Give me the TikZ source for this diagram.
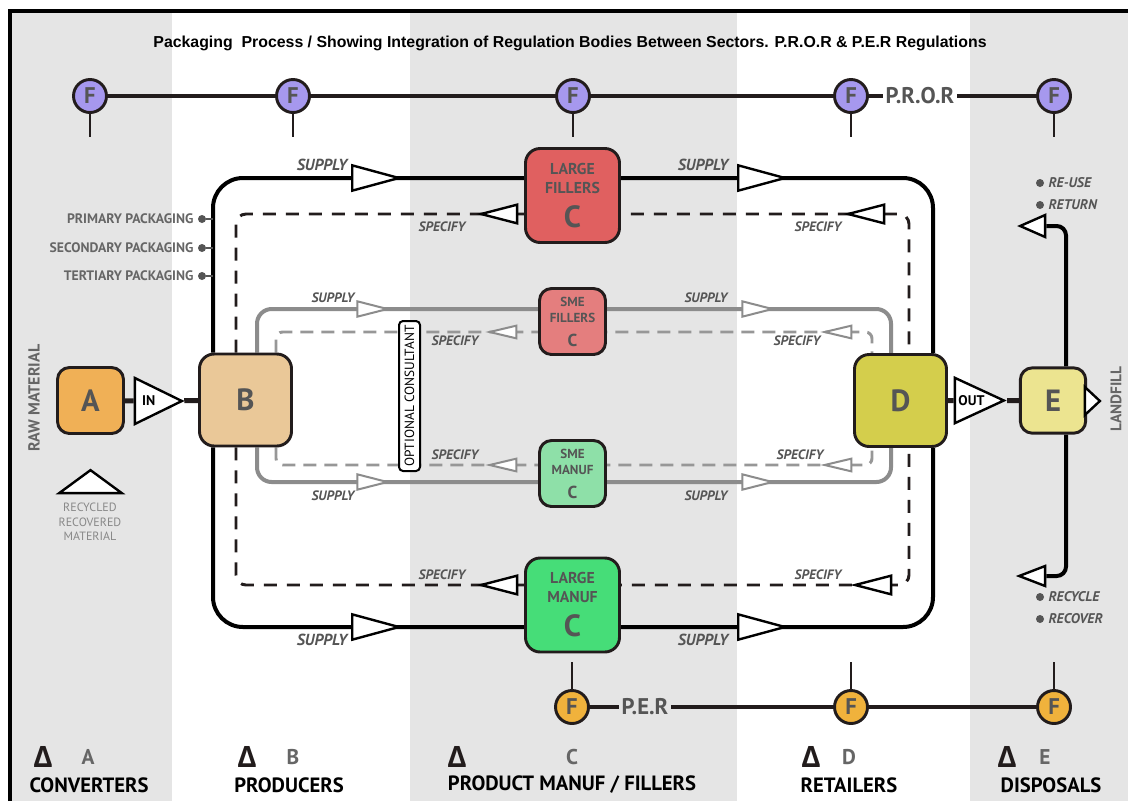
\documentclass[tikz,border=0pt]{standalone}
\usepackage{fontspec}
\setmainfont{PT Sans}
\newfontfamily\titlefont{Liberation Sans}
\newfontfamily\symfont{Open Sans}
\usetikzlibrary{shapes.geometric,positioning}
\pgfdeclarelayer{back}
\pgfdeclarelayer{mid}
\pgfsetlayers{back,mid,main}

\definecolor{bandGray}{RGB}{229,229,229}
\definecolor{boxLine}{RGB}{34,28,28}
\definecolor{txtGray}{RGB}{85,85,85}
\definecolor{lblGray}{RGB}{102,102,102}
\definecolor{lightTxt}{RGB}{136,136,136}
\definecolor{smeGray}{RGB}{140,140,140}
\definecolor{fPur}{RGB}{166,152,238}
\definecolor{fOra}{RGB}{240,178,60}
\definecolor{colA}{RGB}{240,176,86}
\definecolor{colB}{RGB}{234,200,152}
\definecolor{colLF}{RGB}{224,96,96}
\definecolor{colSF}{RGB}{228,126,126}
\definecolor{colSM}{RGB}{142,224,168}
\definecolor{colLM}{RGB}{70,221,120}
\definecolor{colD}{RGB}{212,206,76}
\definecolor{colE}{RGB}{236,228,144}

\begin{document}
\begin{tikzpicture}[x=0.75pt, y=-0.75pt]
\tikzstyle{boxStyle}=[draw=boxLine, line width=2.2pt, inner sep=0pt, align=center, text=txtGray]
\tikzstyle{bigBox}=[boxStyle, rounded corners=11pt, minimum size=70.5pt, font=\bfseries\fontsize{11.8}{14.25}\selectfont]
\tikzstyle{midBox}=[boxStyle, rounded corners=11pt, minimum size=69pt, font=\bfseries\fontsize{23}{23}\selectfont]
\tikzstyle{smallBox}=[boxStyle, rounded corners=9pt, minimum size=49.5pt, font=\bfseries\fontsize{9.8}{12}\selectfont]
\tikzstyle{letterBox}=[smallBox, font=\bfseries\fontsize{23}{23}\selectfont]
\tikzstyle{triStyle}=[isosceles triangle, isosceles triangle stretches, draw=black, fill=white, line width=1.8pt, inner sep=0pt]
\tikzstyle{supBig}=[triStyle, anchor=apex, minimum height=35pt, minimum width=19pt]
\tikzstyle{spcBig}=[triStyle, anchor=apex, shape border rotate=180, minimum height=27pt, minimum width=14pt]
\tikzstyle{supSme}=[triStyle, draw=smeGray, line width=1.5pt, anchor=apex, minimum height=22.5pt, minimum width=11.5pt]
\tikzstyle{spcSme}=[triStyle, draw=smeGray, line width=1.5pt, anchor=apex, shape border rotate=180, minimum height=20pt, minimum width=9.5pt]
\tikzstyle{supText}=[font=\bfseries\itshape\fontsize{12}{12}\selectfont, text=txtGray]
\tikzstyle{smeText}=[font=\bfseries\itshape\fontsize{10.2}{11}\selectfont, text=txtGray]
\tikzstyle{spcText}=[font=\bfseries\itshape\fontsize{10.2}{11}\selectfont, text=txtGray]
\tikzstyle{fTop}=[circle, draw=boxLine, fill=fPur, line width=2.2pt, minimum size=24.75pt, inner sep=0pt, text=txtGray, font=\bfseries\fontsize{17}{17}\selectfont]
\tikzstyle{fBot}=[fTop, fill=fOra]
\tikzstyle{regLine}=[line width=3pt, draw=boxLine]
\tikzstyle{tickLine}=[line width=1.6pt, draw=boxLine]
\tikzstyle{regText}=[font=\bfseries\fontsize{17}{17}\selectfont, text=txtGray, inner sep=2pt]
\tikzstyle{supLine}=[line width=3pt, draw=black, rounded corners=22.5pt]
\tikzstyle{spcLine}=[line width=2.2pt, draw=boxLine, dash pattern=on 9.75pt off 7.5pt, rounded corners=7.5pt]
\tikzstyle{smeLine}=[line width=3pt, draw=smeGray, rounded corners=11pt]
\tikzstyle{smeSpcLine}=[line width=2.2pt, draw=smeGray!90, dash pattern=on 9.75pt off 6pt, rounded corners=5pt]
\tikzstyle{flowLine}=[line width=3.75pt, draw=boxLine]
\tikzstyle{dotStyle}=[circle, fill=txtGray, inner sep=0pt, minimum size=6pt]
\tikzstyle{pkText}=[font=\bfseries\fontsize{10.3}{11}\selectfont, text=lblGray, inner sep=1pt]
\tikzstyle{endText}=[font=\bfseries\itshape\fontsize{10.5}{11}\selectfont, text=txtGray, inner sep=1pt]
\tikzstyle{sideText}=[font=\bfseries\fontsize{12}{12}\selectfont, text=lblGray, rotate=90]
\tikzstyle{deltaText}=[font=\symfont\bfseries\fontsize{22}{22}\selectfont, text=boxLine]
\tikzstyle{keyText}=[font=\bfseries\fontsize{16}{16}\selectfont, text=lblGray]
\tikzstyle{sectorText}=[font=\bfseries\fontsize{15.5}{16}\selectfont, text=black]
\useasboundingbox (0,0) rectangle (1128,801);

% sector bands and frame
\begin{pgfonlayer}{back}
\fill[white] (0,0) rectangle (1128,801);
\fill[bandGray] (10,11) rectangle (172,801);
\fill[bandGray] (410,11) rectangle (737,801);
\fill[bandGray] (970,11) rectangle (1128,801);
\draw[line width=2.4pt] (10,801) -- (10,11) -- (1128,11);
\end{pgfonlayer}

\node[font=\titlefont\bfseries\fontsize{11.9}{13}\selectfont] (title) at (570,43) {Packaging\ \ Process / Showing Integration of Regulation Bodies Between Sectors. P.R.O.R \& P.E.R Regulations};

% boxes
\node[letterBox, fill=colA] (A) at (90.5,400.5) {A};
\node[midBox, fill=colB] (B) at (245.5,400) {B};
\node[bigBox, fill=colLF] (LF) at (572.5,195.5) {LARGE\\FILLERS\\[8pt]{\fontsize{23}{23}\selectfont C}};
\node[smallBox, fill=colSF] (SF) at (572.5,321.5) {SME\\FILLERS\\[6pt]{\fontsize{13}{13}\selectfont C}};
\node[smallBox, fill=colSM] (SM) at (572.5,473.5) {SME\\MANUF\\[6pt]{\fontsize{13}{13}\selectfont C}};
\node[bigBox, fill=colLM] (LM) at (572.5,605) {LARGE\\MANUF\\[8pt]{\fontsize{23}{23}\selectfont C}};
\node[midBox, fill=colD] (D) at (900.5,400.5) {D};
\node[letterBox, fill=colE, minimum size=49pt] (E) at (1053,400.5) {E};
\node[draw=black, fill=white, line width=1.5pt, rounded corners=3pt, rotate=90, minimum width=112.5pt, minimum height=15.75pt, inner sep=0pt, font=\fontsize{10}{10}\selectfont] (cons) at (409.5,396) {OPTIONAL CONSULTANT};

% in / out
\node[triStyle, anchor=apex, minimum height=35.25pt, minimum width=34.5pt, font=\bfseries\fontsize{10.5}{10.5}\selectfont] (inTri) at (185,401) {IN\hspace{6pt}};
\node[triStyle, anchor=apex, minimum height=36.75pt, minimum width=34pt, font=\bfseries\fontsize{10.5}{10.5}\selectfont] (outTri) at (1007,400.5) {OUT\hspace{4pt}};
\node[triStyle, anchor=apex, minimum height=11.25pt, minimum width=21pt] (lfTri) at (1103,401) {};
\node[triStyle, anchor=apex, shape border rotate=90, minimum height=17.25pt, minimum width=47pt] (recTri) at (90.5,467) {};
\node[triStyle, anchor=apex, shape border rotate=180, minimum height=18.75pt, minimum width=16.5pt] (ruTri) at (1017,226) {};
\node[triStyle, anchor=apex, shape border rotate=180, minimum height=19.5pt, minimum width=15pt] (rcTri) at (1016,576) {};

% loop corners
\coordinate (sTL) at (213,178);
\coordinate (sTR) at (933,178);
\coordinate (sBR) at (933,627);
\coordinate (sBL) at (213,627);
\coordinate (kTL) at (236,214);
\coordinate (kTR) at (909,214);
\coordinate (kBR) at (909,585);
\coordinate (kBL) at (236,585);
\coordinate (gTL) at (257,309);
\coordinate (gTR) at (891,309);
\coordinate (gBR) at (891,482);
\coordinate (gBL) at (257,482);
\coordinate (hTL) at (276,332);
\coordinate (hTR) at (872,332);
\coordinate (hBR) at (872,465);
\coordinate (hBL) at (276,465);
\coordinate (eUp) at (1066,226);
\coordinate (eDn) at (1066,576);

% supply / specify marks
\node[supBig] (sp1) at (402,178) {};
\node[supBig] (sp2) at (788,178) {};
\node[supBig] (sp3) at (402,627) {};
\node[supBig] (sp4) at (788,627) {};
\node[spcBig] (sc1) at (478,214) {};
\node[spcBig] (sc2) at (845,214) {};
\node[spcBig] (sc3) at (478,585) {};
\node[spcBig] (sc4) at (852,585) {};
\node[supSme] (gp1) at (390,309) {};
\node[supSme] (gp2) at (775,309) {};
\node[supSme] (gp3) at (390,482) {};
\node[supSme] (gp4) at (775,482) {};
\node[spcSme] (gc1) at (487,332) {};
\node[spcSme] (gc2) at (822,332) {};
\node[spcSme] (gc3) at (487,465) {};
\node[spcSme] (gc4) at (822,465) {};

\node[supText] (ls1) at (322,165) {SUPPLY};
\node[supText] (ls2) at (703,165) {SUPPLY};
\node[supText] (ls3) at (322,640) {SUPPLY};
\node[supText] (ls4) at (703,640) {SUPPLY};
\node[spcText] (lc1) at (442,227) {SPECIFY};
\node[spcText] (lc2) at (818,227) {SPECIFY};
\node[spcText] (lc3) at (442,575) {SPECIFY};
\node[spcText] (lc4) at (818,575) {SPECIFY};
\node[smeText] (lg1) at (333,298) {SUPPLY};
\node[smeText] (lg2) at (706,298) {SUPPLY};
\node[smeText] (lg3) at (333,496) {SUPPLY};
\node[smeText] (lg4) at (706,496) {SUPPLY};
\node[spcText] (lh1) at (455,341) {SPECIFY};
\node[spcText] (lh2) at (797,341) {SPECIFY};
\node[spcText] (lh3) at (455,455) {SPECIFY};
\node[spcText] (lh4) at (800,455) {SPECIFY};

% regulation bodies
\node[fTop] (fP1) at (90,96) {F};
\node[fTop] (fP2) at (293,96) {F};
\node[fTop] (fP3) at (573,96) {F};
\node[fTop] (fP4) at (851,96) {F};
\node[fTop] (fP5) at (1054,96) {F};
\node[regText] (pror) at (920,96) {P.R.O.R};
\node[fBot] (fE1) at (572,707) {F};
\node[fBot] (fE2) at (851,707) {F};
\node[fBot] (fE3) at (1054,707) {F};
\node[regText] (per) at (645,707) {P.E.R};

% packaging levels
\node[dotStyle] (pk1) at (202,219) {};
\node[dotStyle] (pk2) at (202,248) {};
\node[dotStyle] (pk3) at (202,276) {};
\node[pkText, left=2pt of pk1] (pkT1) {PRIMARY PACKAGING};
\node[pkText, left=2pt of pk2] (pkT2) {SECONDARY PACKAGING};
\node[pkText, left=2pt of pk3] (pkT3) {TERTIARY PACKAGING};

% disposal routes
\node[dotStyle] (du1) at (1040,183) {};
\node[dotStyle] (du2) at (1040,205) {};
\node[dotStyle] (du3) at (1040,597) {};
\node[dotStyle] (du4) at (1040,619) {};
\node[endText, right=2pt of du1] (duT1) {RE-USE};
\node[endText, right=2pt of du2] (duT2) {RETURN};
\node[endText, right=2pt of du3] (duT3) {RECYCLE};
\node[endText, right=2pt of du4] (duT4) {RECOVER};

\node[sideText] (raw) at (34,398) {RAW MATERIAL};
\node[sideText, font=\bfseries\fontsize{11.5}{12}\selectfont] (landfill) at (1116,399) {LANDFILL};
\node[align=center, text=lightTxt, font=\fontsize{9}{10.9}\selectfont] (recTxt) at (90,522) {RECYCLED\\RECOVERED\\MATERIAL};

% sectors
\node[deltaText] (dA) at (43,757) {Δ};
\node[keyText] (kA) at (88,757) {A};
\node[sectorText] (secA) at (89,785) {CONVERTERS};
\node[deltaText] (dB) at (247,757) {Δ};
\node[keyText] (kB) at (293,757) {B};
\node[sectorText] (secB) at (289,785) {PRODUCERS};
\node[deltaText] (dC) at (457,757) {Δ};
\node[keyText] (kC) at (572,757) {C};
\node[sectorText] (secC) at (572,785) {PRODUCT MANUF / FILLERS};
\node[deltaText] (dD) at (811,757) {Δ};
\node[keyText] (kD) at (849,757) {D};
\node[sectorText] (secD) at (849,785) {RETAILERS};
\node[deltaText] (dE) at (1007,757) {Δ};
\node[keyText] (kE) at (1045,757) {E};
\node[sectorText] (secE) at (1051,785) {DISPOSALS};

% connectors
\begin{pgfonlayer}{mid}
\draw[supLine] (B.north -| sTL) -- (sTL) -- (sTR) -- (D.north -| sTR);
\draw[supLine] (B.south -| sBL) -- (sBL) -- (sBR) -- (D.south -| sBR);
\draw[spcLine] (B.north -| kTL) -- (kTL) -- (kTR) -- (D.north -| kTR);
\draw[spcLine] (B.south -| kBL) -- (kBL) -- (kBR) -- (D.south -| kBR);
\draw[smeLine] (B.north -| gTL) -- (gTL) -- (gTR) -- (D.north -| gTR);
\draw[smeLine] (B.south -| gBL) -- (gBL) -- (gBR) -- (D.south -| gBR);
\draw[smeSpcLine] (B.north -| hTL) -- (hTL) -- (hTR) -- (D.north -| hTR);
\draw[smeSpcLine] (B.south -| hBL) -- (hBL) -- (hBR) -- (D.south -| hBR);
\draw[flowLine] (A) -- (inTri);
\draw[flowLine] (inTri) -- (B);
\draw[flowLine] (D) -- (outTri);
\draw[flowLine] (outTri) -- (E);
\draw[line width=3pt, rounded corners=7pt] (E.north -| eUp) -- (eUp) -- (ruTri);
\draw[line width=3pt, rounded corners=7pt] (E.south -| eDn) -- (eDn) -- (rcTri);
\draw[line width=2pt, draw=txtGray] (pk1) -- (pk1 -| sTL);
\draw[line width=2pt, draw=txtGray] (pk2) -- (pk2 -| sTL);
\draw[line width=2pt, draw=txtGray] (pk3) -- (pk3 -| sTL);
\end{pgfonlayer}
\draw[regLine] (fP1) -- (fP2);
\draw[regLine] (fP2) -- (fP3);
\draw[regLine] (fP3) -- (fP4);
\draw[regLine] (fP4) -- (pror);
\draw[regLine] (pror) -- (fP5);
\draw[regLine] (fE1) -- (per);
\draw[regLine] (per) -- (fE2);
\draw[regLine] (fE2) -- (fE3);
\draw[tickLine] (fP1.south) -- ++(0,23);
\draw[tickLine] (fP2.south) -- ++(0,23);
\draw[tickLine] (fP3.south) -- ++(0,23);
\draw[tickLine] (fP4.south) -- ++(0,23);
\draw[tickLine] (fP5.south) -- ++(0,23);
\draw[tickLine] (fE1.north) -- ++(0,-27);
\draw[tickLine] (fE2.north) -- ++(0,-27);
\draw[tickLine] (fE3.north) -- ++(0,-27);
\end{tikzpicture}
\end{document}
